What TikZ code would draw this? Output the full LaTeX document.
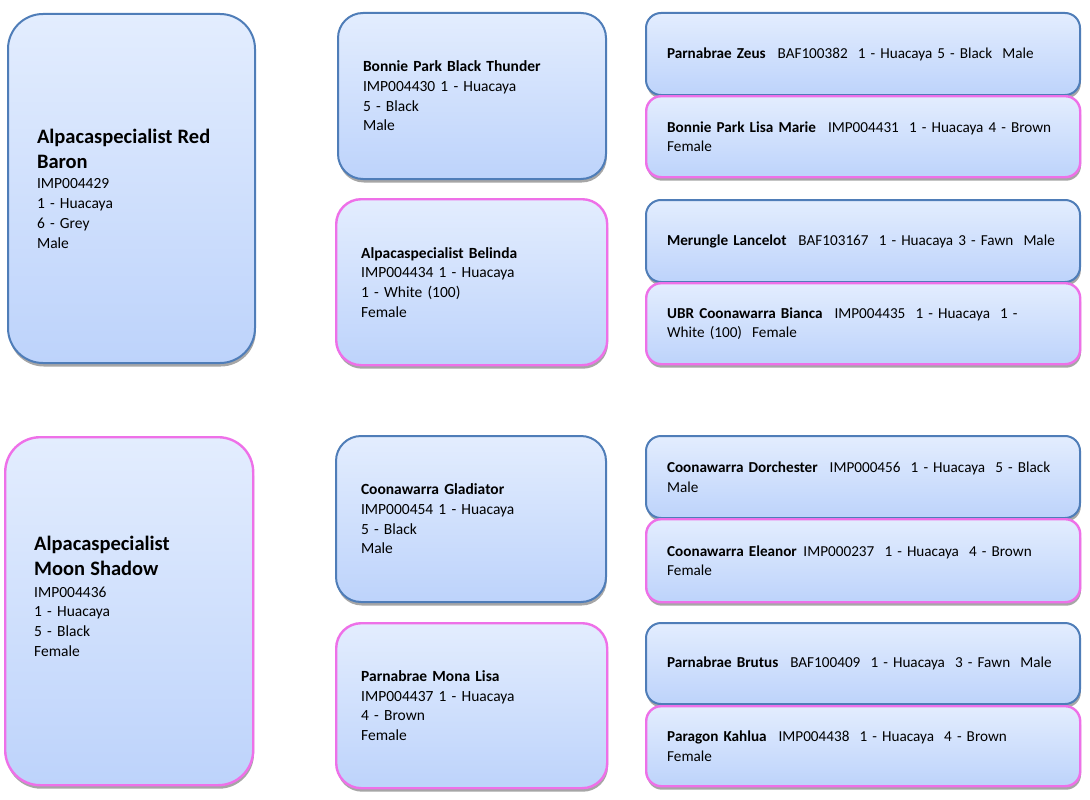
\documentclass[tikz,border=0pt]{standalone}
\usepackage{fontspec}
\setmainfont{Carlito}
\usetikzlibrary{shadows}
\definecolor{bl}{HTML}{4F7DB8}
\definecolor{pk}{HTML}{EE70E8}
\definecolor{ft}{HTML}{E3EDFE}
\definecolor{fb}{HTML}{BDD3FB}
\tikzset{
 card/.style={draw, line width=2pt, top color=ft, bottom color=fb, anchor=north west, align=left,
   drop shadow={shadow xshift=0.8pt, shadow yshift=-3.5pt, fill=black, opacity=0.35},
   font=\fontsize{15.5}{19.7}\selectfont, text=black},
 male/.style={card, draw=bl},
 female/.style={card, draw=pk, line width=2.4pt},
 big/.style={rounded corners=35pt, inner xsep=29pt, inner ysep=0pt},
 mid/.style={rounded corners=25pt, inner xsep=25pt, inner ysep=0pt},
 small/.style={rounded corners=15pt, inner xsep=21pt, inner ysep=0pt, text width=392pt, minimum width=434pt,
   font=\fontsize{15.2}{19.7}\selectfont},
}
\begin{document}
\begin{tikzpicture}[x=1pt,y=-1pt]
\fill[white] (0,0) rectangle (1090,800);
\useasboundingbox (0,0) rectangle (1090,800);

% first pedigree
\node[male, big, minimum width=247pt, minimum height=349pt, text width=189pt] (rb) at (7,13)
 {{\fontsize{20.5}{25}\selectfont\bfseries Alpacaspecialist Red\\Baron\par}\vspace{1pt}IMP004429\\1 - Huacaya\\6 - Grey\\Male};
\node[male, mid, minimum width=268pt, minimum height=166pt, text width=218pt] (bt) at (337,12)
 {\textbf{Bonnie Park Black Thunder}\\IMP004430 1 - Huacaya\\5 - Black\\Male};
\node[female, mid, minimum width=271pt, minimum height=166pt, text width=221pt] (be) at (335,198)
 {\textbf{Alpacaspecialist Belinda}\\IMP004434 1 - Huacaya\\1 - White (100)\\Female};
\node[male, small, minimum height=82pt] (zeus) at (645,12)
 {\mbox{\textbf{Parnabrae Zeus}\hspace{0.45em} BAF100382~~1 - Huacaya 5 - Black~~Male}};
\node[female, small, minimum height=81pt] (lisa) at (645,95)
 {\mbox{\textbf{Bonnie Park Lisa Marie}\hspace{0.45em} IMP004431~~1 - Huacaya 4 - Brown}\\Female};
\node[male, small, minimum height=82pt] (lanc) at (645,199)
 {\mbox{\textbf{Merungle Lancelot}\hspace{0.45em} BAF103167~~1 - Huacaya 3 - Fawn~~Male}};
\node[female, small, minimum height=81pt] (bianca) at (645,282)
 {\mbox{\textbf{UBR Coonawarra Bianca}\hspace{0.45em} IMP004435~~1 - Huacaya~~1 -}\\White (100)~~Female};

% second pedigree
\node[female, big, minimum width=248pt, minimum height=348pt, text width=190pt] (ms) at (4,436)
 {{\fontsize{20.5}{25}\selectfont\bfseries Alpacaspecialist\\Moon Shadow\par}\vspace{2pt}IMP004436\\1 - Huacaya\\5 - Black\\Female\par\vspace{30pt}};
\node[male, mid, minimum width=270pt, minimum height=166pt, text width=220pt] (glad) at (335,435)
 {\textbf{Coonawarra Gladiator}\\IMP000454 1 - Huacaya\\5 - Black\\Male};
\node[female, mid, minimum width=271pt, minimum height=165pt, text width=221pt] (mona) at (335,622)
 {\textbf{Parnabrae Mona Lisa}\\IMP004437 1 - Huacaya\\4 - Brown\\Female};
\node[male, small, minimum height=82pt] (dor) at (645,435)
 {\mbox{\textbf{Coonawarra Dorchester}\hspace{0.45em} IMP000456~~1 - Huacaya~~5 - Black}\\Male};
\node[female, small, minimum height=83pt] (ele) at (645,518)
 {\mbox{\textbf{Coonawarra Eleanor}~\hspace{0.1em}IMP000237~~1 - Huacaya~~4 - Brown}\\Female};
\node[male, small, minimum height=81pt] (brut) at (645,622)
 {\mbox{\textbf{Parnabrae Brutus}\hspace{0.45em} BAF100409~~1 - Huacaya~~3 - Fawn~~Male}};
\node[female, small, minimum height=80pt] (kah) at (645,705)
 {\mbox{\textbf{Paragon Kahlua}\hspace{0.45em} IMP004438~~1 - Huacaya~~4 - Brown}\\Female};
\end{tikzpicture}
\end{document}
